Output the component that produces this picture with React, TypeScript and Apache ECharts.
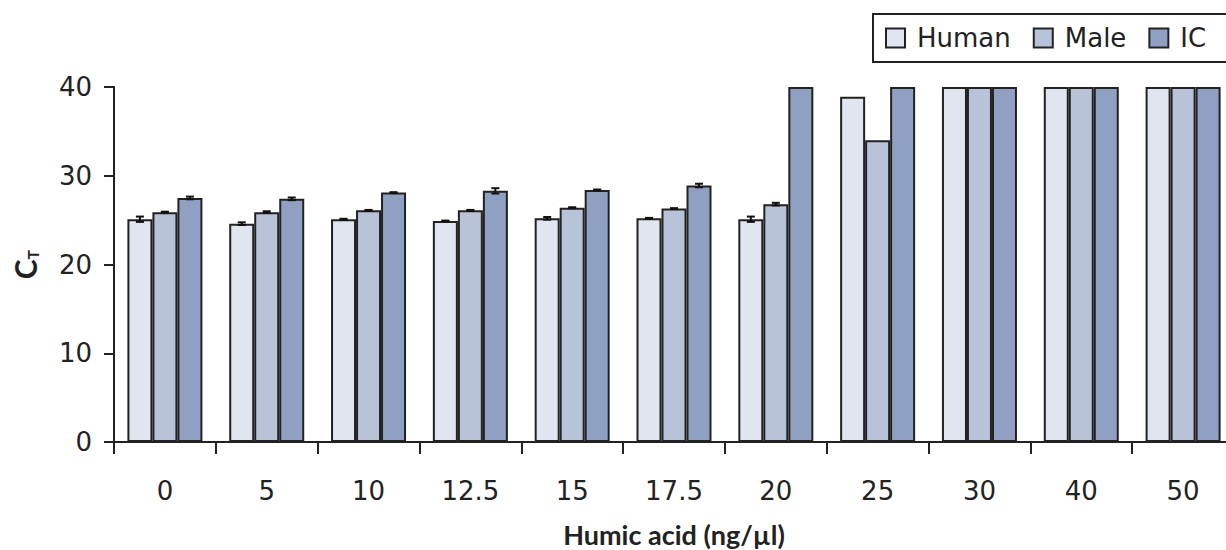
import React, { useEffect, useRef } from "react";
import * as echarts from "echarts";

const categories = ["0", "5", "10", "12.5", "15", "17.5", "20", "25", "30", "40", "50"];
const seriesNames = ["Human", "Male", "IC"];
const humanCt = [25.1, 24.6, 25.1, 24.9, 25.2, 25.2, 25.1, 38.9, 40, 40, 40];
const maleCt = [25.9, 25.9, 26.1, 26.1, 26.4, 26.3, 26.8, 34.0, 40, 40, 40];
const icCt = [27.5, 27.4, 28.1, 28.3, 28.4, 28.9, 40, 40, 40, 40, 40];
const humanErr = [0.3, 0.15, 0.05, 0.05, 0.15, 0.05, 0.3, 0, 0, 0, 0];
const maleErr = [0.05, 0.1, 0.05, 0.05, 0.05, 0.05, 0.15, 0, 0, 0, 0];
const icErr = [0.15, 0.15, 0.05, 0.3, 0.05, 0.2, 0, 0, 0, 0, 0];
const yTicks = [0, 10, 20, 30, 40];

const colors = ["#e1e5f0", "#b8c2d9", "#8fa0c2"];
const ink = "#222";
const font = "DejaVu Sans";
const titleFont = "Lato";
const BAR_W = 25;

export default function App() {
  const ref = useRef<HTMLDivElement>(null);

  useEffect(() => {
    if (!ref.current) return;
    const chart = echarts.init(ref.current, null, { renderer: "svg" });
    const values = [humanCt, maleCt, icCt];
    const errs = [humanErr, maleErr, icErr];

    const barSeries = seriesNames.map((name, i) => ({
      name,
      type: "bar",
      data: values[i],
      barWidth: BAR_W,
      barGap: "0%",
      itemStyle: { color: colors[i], borderColor: ink, borderWidth: 2 },
    }));

    // Error bars drawn over each bar, offset to that bar's slot in the group
    const errSeries = seriesNames.map((name, i) => ({
      name: name + " error",
      type: "custom",
      z: 5,
      data: values[i].map((v, k) => [k, v, errs[i][k]]),
      renderItem: (params: any, api: any) => {
        const idx = api.value(0);
        const v = api.value(1);
        const e = api.value(2);
        if (!e) return null;
        const offset = (i - 1) * BAR_W;
        const hi = api.coord([idx, v + e]);
        const lo = api.coord([idx, v - e]);
        const x = hi[0] + offset;
        const cap = 4;
        const style = { stroke: "#111", lineWidth: 2 };
        return {
          type: "group",
          children: [
            { type: "line", shape: { x1: x, y1: hi[1], x2: x, y2: lo[1] }, style },
            { type: "line", shape: { x1: x - cap, y1: hi[1], x2: x + cap, y2: hi[1] }, style },
            { type: "line", shape: { x1: x - cap, y1: lo[1], x2: x + cap, y2: lo[1] }, style },
          ],
        };
      },
    }));

    chart.setOption({
      animation: false,
      textStyle: { fontFamily: font },
      legend: {
        data: seriesNames,
        left: 873,
        top: 14,
        width: 420,
        icon: "rect",
        itemWidth: 19,
        itemHeight: 19,
        itemGap: 22,
        padding: [11, 24, 11, 12],
        borderColor: ink,
        borderWidth: 2,
        textStyle: { fontSize: 26, color: ink, fontFamily: font, padding: [0, 0, 0, 7] },
      },
      grid: {
        left: 114,
        top: 87,
        width: 1120,
        height: 355,
        containLabel: false,
        outerBoundsMode: "none",
      },
      xAxis: {
        type: "category",
        data: categories,
        name: "Humic acid (ng/µl)",
        nameLocation: "middle",
        nameGap: 79,
        nameTextStyle: { fontSize: 27, fontWeight: "bold", color: ink, fontFamily: titleFont },
        axisLine: { show: true, onZero: false, lineStyle: { color: ink, width: 2, opacity: 1 } },
        axisTick: { show: true, length: 12, lineStyle: { color: ink, width: 2, opacity: 1 } },
        axisLabel: { fontSize: 26, color: ink, margin: 36, fontFamily: font },
      },
      yAxis: {
        type: "value",
        min: yTicks[0],
        max: yTicks[yTicks.length - 1],
        interval: 10,
        name: "{c|C}{t|T}",
        nameLocation: "middle",
        nameGap: 74,
        nameRotate: 90,
        nameTextStyle: {
          rich: {
            c: { fontSize: 30, fontWeight: "bold", color: ink, fontFamily: titleFont },
            t: { fontSize: 16, fontWeight: "bold", color: ink, fontFamily: titleFont, verticalAlign: "bottom", padding: [12, 0, 0, 0] },
          },
        },
        splitLine: { show: false },
        axisLine: { show: true, lineStyle: { color: ink, width: 2, opacity: 1 } },
        axisTick: { show: true, length: 10, lineStyle: { color: ink, width: 2, opacity: 1 } },
        axisLabel: { fontSize: 26, color: ink, margin: 22, fontFamily: font },
      },
      series: [...barSeries, ...errSeries],
    });

    return () => chart.dispose();
  }, []);

  return (
    <div
      ref={ref}
      style={{ position: "fixed", left: 0, top: 0, width: 1226, height: 550, background: "#fff" }}
    />
  );
}
